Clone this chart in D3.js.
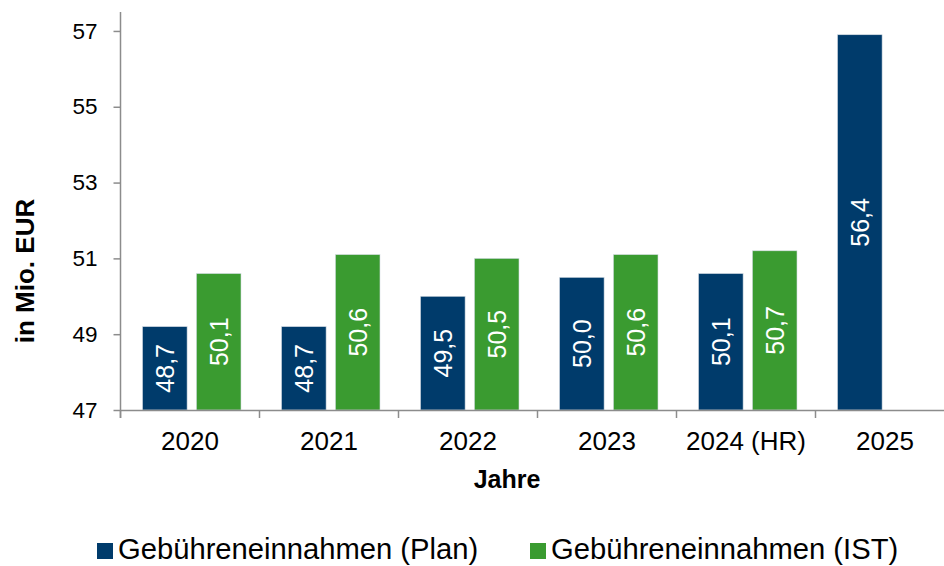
<!DOCTYPE html>
<html>
<head>
<meta charset="utf-8">
<script src="https://cdn.jsdelivr.net/npm/d3@7.9.0/dist/d3.min.js"></script>
<style>
  html, body { margin: 0; padding: 0; background: #fff; }
  svg { display: block; font-family: "Liberation Sans", Arial, sans-serif; }
</style>
</head>
<body>
<svg width="944" height="566"></svg>
<script>
// chart values
const categories = ["2020", "2021", "2022", "2023", "2024 (HR)", "2025"];
const series = ["Gebühreneinnahmen (Plan)", "Gebühreneinnahmen (IST)"];
const planValues = [48.7, 48.7, 49.5, 50.0, 50.1, 56.4];
const istValues = [50.1, 50.6, 50.5, 50.6, 50.7, null];
// the axis starts at 46,5 with step 2, labels shown rounded
const yTicks = [46.5, 48.5, 50.5, 52.5, 54.5, 56.5];
const yTickLabels = ["47", "49", "51", "53", "55", "57"];

const colors = ["#003b6b", "#3a9b30"];
const axisColor = "#8c8c8c";

const svg = d3.select("svg");
const de = d3.formatLocale({decimal: ",", thousands: ".", grouping: [3], currency: ["", " €"]});
const fmt = de.format(".1f");

const plot = {left: 120.5, bottom: 410, top: 12};

const x0 = d3.scaleBand()
    .domain(categories)
    .range([plot.left, plot.left + 139 * categories.length])
    .padding(0);

const x1 = d3.scaleBand()
    .domain(series)
    .range([22, 120.5])
    .paddingInner(0.1725);

const y = d3.scaleLinear()
    .domain([46.5, 57])
    .range([plot.bottom, plot.top]);

const rows = categories.map((c, i) => ({cat: c, values: [planValues[i], istValues[i]]}));

// bars
const groups = svg.append("g").selectAll("g")
    .data(rows)
    .join("g")
    .attr("transform", d => `translate(${x0(d.cat)},0)`);

const bars = groups.selectAll("g.bar")
    .data(d => d.values.map((v, j) => ({key: series[j], v: v, j: j})).filter(e => e.v != null))
    .join("g")
    .attr("class", "bar");

bars.append("rect")
    .attr("x", d => x1(d.key))
    .attr("y", d => y(d.v))
    .attr("width", x1.bandwidth())
    .attr("height", d => y(46.5) - y(d.v))
    .attr("fill", d => colors[d.j])
    .attr("stroke", "#d5dde4")
    .attr("stroke-width", 0.6);

bars.append("text")
    .attr("transform", d => {
        const cx = x1(d.key) + x1.bandwidth() / 2;
        const cy = (y(d.v) + y(46.5)) / 2;
        return `translate(${cx},${cy}) rotate(-90)`;
    })
    .attr("text-anchor", "middle")
    .attr("dy", "0.36em")
    .attr("fill", "#fff")
    .attr("font-size", 25)
    .text(d => fmt(d.v));

// y axis
const yAxis = svg.append("g")
    .attr("transform", `translate(${plot.left},0)`)
    .call(d3.axisLeft(y).tickValues(yTicks).tickFormat((d, i) => yTickLabels[i]).tickSize(7).tickPadding(16).tickSizeOuter(0));
yAxis.select(".domain").attr("stroke", axisColor).attr("stroke-width", 1.5)
    .attr("d", `M0,${plot.bottom + 8}V${plot.top}`);
yAxis.selectAll(".tick line").attr("stroke", axisColor).attr("stroke-width", 1.5);
yAxis.selectAll(".tick text").attr("font-size", 22.5).attr("fill", "#000").attr("font-family", null);

// x axis
const xAxis = svg.append("g")
    .attr("transform", `translate(0,${plot.bottom})`)
    .call(d3.axisBottom(x0).tickSize(0).tickPadding(22).tickSizeOuter(0));
xAxis.select(".domain").attr("stroke", axisColor).attr("stroke-width", 1.5);
xAxis.selectAll(".tick text").attr("font-size", 26).attr("fill", "#000").attr("font-family", null);
xAxis.selectAll("line.sep")
    .data(categories)
    .join("line")
    .attr("class", "sep")
    .attr("x1", d => x0(d)).attr("x2", d => x0(d))
    .attr("y1", 0).attr("y2", 8)
    .attr("stroke", axisColor)
    .attr("stroke-width", 1.5);

// axis titles
svg.append("text")
    .attr("transform", "translate(34,271) rotate(-90)")
    .attr("text-anchor", "middle")
    .attr("font-size", 26)
    .attr("font-weight", "bold")
    .text("in Mio. EUR");

svg.append("text")
    .attr("x", 507)
    .attr("y", 488)
    .attr("text-anchor", "middle")
    .attr("font-size", 25)
    .attr("font-weight", "bold")
    .text("Jahre");

// legend
const legendX = [97, 530];
const legend = svg.append("g").selectAll("g")
    .data(series)
    .join("g")
    .attr("transform", (d, i) => `translate(${legendX[i]},543)`);
legend.append("rect")
    .attr("width", 16).attr("height", 16)
    .attr("fill", (d, i) => colors[i]);
legend.append("text")
    .attr("x", 21)
    .attr("y", 16)
    .attr("font-size", 29.2)
    .text(d => d);
</script>
</body>
</html>
